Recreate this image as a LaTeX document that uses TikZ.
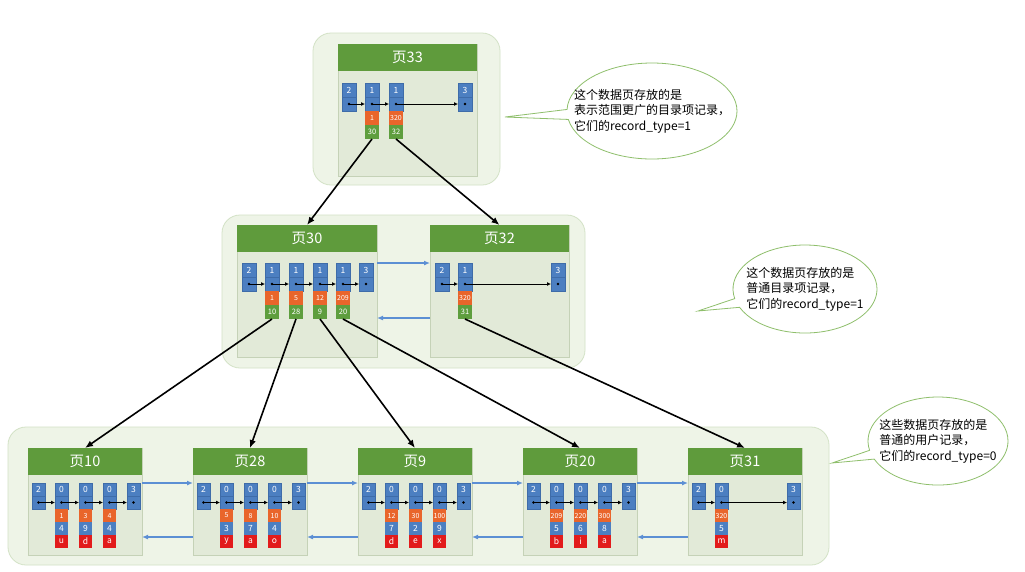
\documentclass[tikz,border=0pt]{standalone}
\usepackage{fontspec}
\newfontfamily\cjk{Noto Sans CJK SC}
\usetikzlibrary{positioning,shapes.callouts,arrows.meta}

\definecolor{outerfill}{HTML}{EEF4E7}
\definecolor{outerline}{HTML}{D3E2C6}
\definecolor{pagefill}{HTML}{E2EAD8}
\definecolor{pageline}{HTML}{C5D2B7}
\definecolor{headgreen}{HTML}{5F9B3C}
\definecolor{recblue}{HTML}{4C7FC1}
\definecolor{recline}{HTML}{3E6CA9}
\definecolor{keyorange}{HTML}{E9652B}
\definecolor{ptrgreen}{HTML}{5E9E3E}
\definecolor{colred}{HTML}{E21B1B}
\definecolor{linkblue}{HTML}{5C8FD4}
\definecolor{bubbleline}{HTML}{8FBF6C}

\tikzset{
  outerbox/.style={draw=outerline, fill=outerfill, rounded corners=18pt, line width=0.8pt},
  pagebox/.style={draw=pageline, fill=pagefill, line width=0.6pt, inner sep=0pt, outer sep=0pt},
  headbar/.style={fill=headgreen, text=white, inner sep=0pt, outer sep=0pt, minimum height=27pt, font=\cjk\fontsize{14.5}{14.5}\selectfont},
  cell/.style={draw=recline, line width=0.4pt, fill=recblue, text=white, inner sep=0pt, outer sep=0pt, minimum width=14pt, minimum height=14pt, font=\cjk\fontsize{8.5}{8.5}\selectfont},
  leafsize/.style={minimum width=13pt, minimum height=13pt},
  keycell/.style={cell, draw=none, fill=keyorange, font=\cjk\fontsize{7}{7}\selectfont},
  ptrcell/.style={cell, draw=none, fill=ptrgreen, font=\cjk\fontsize{7.5}{7.5}\selectfont},
  valcell/.style={cell, draw=none},
  colcell/.style={cell, draw=none, fill=colred},
  nextptr/.style={-{Latex[length=4pt,width=4pt]}, line width=0.9pt},
  downlink/.style={-{Latex[length=8pt,width=6.5pt]}, line width=1.6pt},
  pagelink/.style={-{Latex[length=6pt,width=5pt]}, draw=linkblue, line width=1.2pt},
  bubble/.style={ellipse callout, draw=bubbleline, fill=white, line width=0.8pt, callout pointer arc=12},
  note/.style={align=left, inner sep=0pt, font=\cjk\fontsize{12}{15.5}\selectfont},
}

\begin{document}
\begin{tikzpicture}[x=1pt, y=-1pt]
  \useasboundingbox (0,0) rectangle (1025,571);
  \fill[white] (0,0) rectangle (1025,571);

  \filldraw[outerbox] (313,33) rectangle (500,185);
  \filldraw[outerbox] (222,215) rectangle (585,368);
  \filldraw[outerbox] (8,427) rectangle (829,565);

  \node[bubble, minimum width=170pt, minimum height=96pt, callout absolute pointer={(505,117)}] (c1) at (652,111) {};
  \node[note] (t1) at (c1) {这个数据页存放的是\\表示范围更广的目录项记录，\\它们的record\_type=1};
  \node[bubble, minimum width=144pt, minimum height=88pt, callout absolute pointer={(698,311)}] (c2) at (805,289) {};
  \node[note] (t2) at (c2) {这个数据页存放的是\\普通目录项记录，\\它们的record\_type=1};
  \node[bubble, minimum width=140pt, minimum height=88pt, callout absolute pointer={(832,463)}] (c3) at (938,441) {};
  \node[note] (t3) at (c3) {这些数据页存放的是\\普通的用户记录，\\它们的record\_type=0};

  % 页33
  \begin{scope}[name prefix=p33-]
    \node[pagebox, minimum width=139pt, minimum height=132pt] (pg) at (407.5,110) {};
    \node[headbar, minimum width=139pt] (h) at (407.5,57.5) {页33};
    \node[cell] (inf) at (349,90) {2};
    \node[cell] (infd) at (349,104) {};
    \foreach \x/\k/\p [count=\n] in {372/1/30, 396/320/32} {
      \node[cell] (r\n) at (\x,90) {1};
      \node[cell] (d\n) at (\x,104) {};
      \node[keycell] (k\n) at (\x,118) {\k};
      \node[ptrcell] (p\n) at (\x,132) {\p};
    }
    \node[cell] (sup) at (465,90) {3};
    \node[cell] (supd) at (465,104) {};
    \foreach \a/\b in {infd/d1, d1/d2, d2/supd}
      \draw[nextptr] (\a.center) -- (\b.west);
    \foreach \d in {infd, d1, d2, supd}
      \fill (\d) circle (1.4pt);
  \end{scope}

  % 页30
  \begin{scope}[name prefix=p30-]
    \node[pagebox, minimum width=140pt, minimum height=132pt] (pg) at (307,291) {};
    \node[headbar, minimum width=140pt] (h) at (307,238.5) {页30};
    \node[cell] (inf) at (249,270) {2};
    \node[cell] (infd) at (249,284) {};
    \foreach \x/\k/\p [count=\n] in {272/1/10, 296/5/28, 320/12/9, 343/209/20} {
      \node[cell] (r\n) at (\x,270) {1};
      \node[cell] (d\n) at (\x,284) {};
      \node[keycell] (k\n) at (\x,298) {\k};
      \node[ptrcell] (p\n) at (\x,312) {\p};
    }
    \node[cell] (sup) at (366,270) {3};
    \node[cell] (supd) at (366,284) {};
    \foreach \a/\b in {infd/d1, d1/d2, d2/d3, d3/d4, d4/supd}
      \draw[nextptr] (\a.center) -- (\b.west);
    \foreach \d in {infd, d1, d2, d3, d4, supd}
      \fill (\d) circle (1.4pt);
    \coordinate (fwdout) at (377,263);
    \coordinate (bckin) at (377,318);
  \end{scope}

  % 页32
  \begin{scope}[name prefix=p32-]
    \node[pagebox, minimum width=139pt, minimum height=132pt] (pg) at (499.5,291) {};
    \node[headbar, minimum width=139pt] (h) at (499.5,238.5) {页32};
    \node[cell] (inf) at (442,270) {2};
    \node[cell] (infd) at (442,284) {};
    \node[cell] (r1) at (465,270) {1};
    \node[cell] (d1) at (465,284) {};
    \node[keycell] (k1) at (465,298) {320};
    \node[ptrcell] (p1) at (465,312) {31};
    \node[cell] (sup) at (558,270) {3};
    \node[cell] (supd) at (558,284) {};
    \foreach \a/\b in {infd/d1, d1/supd}
      \draw[nextptr] (\a.center) -- (\b.west);
    \foreach \d in {infd, d1, supd}
      \fill (\d) circle (1.4pt);
    \coordinate (fwdin) at (430,263);
    \coordinate (bckout) at (430,318);
  \end{scope}

  % Blattseiten: gleiche lokale Koordinaten, nur xshift
  \begin{scope}[xshift=28pt, name prefix=p10-]
    \node[pagebox, minimum width=114pt, minimum height=107pt] (pg) at (57,501.5) {};
    \node[headbar, minimum width=114pt] (h) at (57,461.5) {页10};
    \node[cell, leafsize] (inf) at (10.5,489.5) {2};
    \node[cell, leafsize] (infd) at (10.5,502.5) {};
    \foreach \x/\k/\v/\c [count=\n] in {33.5/1/4/u, 57.5/3/9/d, 81.5/4/4/a} {
      \node[cell, leafsize] (r\n) at (\x,489.5) {0};
      \node[cell, leafsize] (d\n) at (\x,502.5) {};
      \node[keycell, leafsize] (k\n) at (\x,515.5) {\k};
      \node[valcell, leafsize] (v\n) at (\x,528.5) {\v};
      \node[colcell, leafsize] (c\n) at (\x,541.5) {\c};
    }
    \node[cell, leafsize] (sup) at (105.5,489.5) {3};
    \node[cell, leafsize] (supd) at (105.5,502.5) {};
    \foreach \a/\b in {infd/d1, d1/d2, d2/d3, d3/supd}
      \draw[nextptr] (\a.center) -- (\b.west);
    \foreach \d in {infd, d1, d2, d3, supd}
      \fill (\d) circle (1.3pt);
    \coordinate (fwdin) at (0,483);  \coordinate (fwdout) at (114,483);
    \coordinate (bckout) at (0,537); \coordinate (bckin) at (114,537);
  \end{scope}

  \begin{scope}[xshift=193pt, name prefix=p28-]
    \node[pagebox, minimum width=114pt, minimum height=107pt] (pg) at (57,501.5) {};
    \node[headbar, minimum width=114pt] (h) at (57,461.5) {页28};
    \node[cell, leafsize] (inf) at (10.5,489.5) {2};
    \node[cell, leafsize] (infd) at (10.5,502.5) {};
    \foreach \x/\k/\v/\c [count=\n] in {33.5/5/3/y, 57.5/8/7/a, 81.5/10/4/o} {
      \node[cell, leafsize] (r\n) at (\x,489.5) {0};
      \node[cell, leafsize] (d\n) at (\x,502.5) {};
      \node[keycell, leafsize] (k\n) at (\x,515.5) {\k};
      \node[valcell, leafsize] (v\n) at (\x,528.5) {\v};
      \node[colcell, leafsize] (c\n) at (\x,541.5) {\c};
    }
    \node[cell, leafsize] (sup) at (105.5,489.5) {3};
    \node[cell, leafsize] (supd) at (105.5,502.5) {};
    \foreach \a/\b in {infd/d1, d1/d2, d2/d3, d3/supd}
      \draw[nextptr] (\a.center) -- (\b.west);
    \foreach \d in {infd, d1, d2, d3, supd}
      \fill (\d) circle (1.3pt);
    \coordinate (fwdin) at (0,483);  \coordinate (fwdout) at (114,483);
    \coordinate (bckout) at (0,537); \coordinate (bckin) at (114,537);
  \end{scope}

  \begin{scope}[xshift=358pt, name prefix=p9-]
    \node[pagebox, minimum width=114pt, minimum height=107pt] (pg) at (57,501.5) {};
    \node[headbar, minimum width=114pt] (h) at (57,461.5) {页9};
    \node[cell, leafsize] (inf) at (10.5,489.5) {2};
    \node[cell, leafsize] (infd) at (10.5,502.5) {};
    \foreach \x/\k/\v/\c [count=\n] in {33.5/12/7/d, 57.5/30/2/e, 81.5/100/9/x} {
      \node[cell, leafsize] (r\n) at (\x,489.5) {0};
      \node[cell, leafsize] (d\n) at (\x,502.5) {};
      \node[keycell, leafsize] (k\n) at (\x,515.5) {\k};
      \node[valcell, leafsize] (v\n) at (\x,528.5) {\v};
      \node[colcell, leafsize] (c\n) at (\x,541.5) {\c};
    }
    \node[cell, leafsize] (sup) at (105.5,489.5) {3};
    \node[cell, leafsize] (supd) at (105.5,502.5) {};
    \foreach \a/\b in {infd/d1, d1/d2, d2/d3, d3/supd}
      \draw[nextptr] (\a.center) -- (\b.west);
    \foreach \d in {infd, d1, d2, d3, supd}
      \fill (\d) circle (1.3pt);
    \coordinate (fwdin) at (0,483);  \coordinate (fwdout) at (114,483);
    \coordinate (bckout) at (0,537); \coordinate (bckin) at (114,537);
  \end{scope}

  \begin{scope}[xshift=523pt, name prefix=p20-]
    \node[pagebox, minimum width=114pt, minimum height=107pt] (pg) at (57,501.5) {};
    \node[headbar, minimum width=114pt] (h) at (57,461.5) {页20};
    \node[cell, leafsize] (inf) at (10.5,489.5) {2};
    \node[cell, leafsize] (infd) at (10.5,502.5) {};
    \foreach \x/\k/\v/\c [count=\n] in {33.5/209/5/b, 57.5/220/6/i, 81.5/300/8/a} {
      \node[cell, leafsize] (r\n) at (\x,489.5) {0};
      \node[cell, leafsize] (d\n) at (\x,502.5) {};
      \node[keycell, leafsize] (k\n) at (\x,515.5) {\k};
      \node[valcell, leafsize] (v\n) at (\x,528.5) {\v};
      \node[colcell, leafsize] (c\n) at (\x,541.5) {\c};
    }
    \node[cell, leafsize] (sup) at (105.5,489.5) {3};
    \node[cell, leafsize] (supd) at (105.5,502.5) {};
    \foreach \a/\b in {infd/d1, d1/d2, d2/d3, d3/supd}
      \draw[nextptr] (\a.center) -- (\b.west);
    \foreach \d in {infd, d1, d2, d3, supd}
      \fill (\d) circle (1.3pt);
    \coordinate (fwdin) at (0,483);  \coordinate (fwdout) at (114,483);
    \coordinate (bckout) at (0,537); \coordinate (bckin) at (114,537);
  \end{scope}

  \begin{scope}[xshift=688pt, name prefix=p31-]
    \node[pagebox, minimum width=114pt, minimum height=107pt] (pg) at (57,501.5) {};
    \node[headbar, minimum width=114pt] (h) at (57,461.5) {页31};
    \node[cell, leafsize] (inf) at (10.5,489.5) {2};
    \node[cell, leafsize] (infd) at (10.5,502.5) {};
    \node[cell, leafsize] (r1) at (33.5,489.5) {0};
    \node[cell, leafsize] (d1) at (33.5,502.5) {};
    \node[keycell, leafsize] (k1) at (33.5,515.5) {320};
    \node[valcell, leafsize] (v1) at (33.5,528.5) {5};
    \node[colcell, leafsize] (c1) at (33.5,541.5) {m};
    \node[cell, leafsize] (sup) at (105.5,489.5) {3};
    \node[cell, leafsize] (supd) at (105.5,502.5) {};
    \foreach \a/\b in {infd/d1, d1/supd}
      \draw[nextptr] (\a.center) -- (\b.west);
    \foreach \d in {infd, d1, supd}
      \fill (\d) circle (1.3pt);
    \coordinate (fwdin) at (0,483);  \coordinate (fwdout) at (114,483);
    \coordinate (bckout) at (0,537); \coordinate (bckin) at (114,537);
  \end{scope}

  % Geschwisterseiten verketten
  \draw[pagelink] (p30-fwdout) -- (p32-fwdin);
  \draw[pagelink] (p32-bckout) -- (p30-bckin);
  \foreach \a/\b in {10/28, 28/9, 9/20, 20/31} {
    \draw[pagelink] (p\a-fwdout) -- (p\b-fwdin);
    \draw[pagelink] (p\b-bckout) -- (p\a-bckin);
  }

  % Verweise auf die Kindseiten
  \draw[downlink] (p33-p1.south) -- (p30-h.north);
  \draw[downlink] (p33-p2.south) -- (p32-h.north);
  \draw[downlink] (p30-p1.south) -- (p10-h.north);
  \draw[downlink] (p30-p2.south) -- (p28-h.north);
  \draw[downlink] (p30-p3.south) -- (p9-h.north);
  \draw[downlink] (p30-p4.south) -- (p20-h.north);
  \draw[downlink] (p32-p1.south) -- (p31-h.north);
\end{tikzpicture}
\end{document}
